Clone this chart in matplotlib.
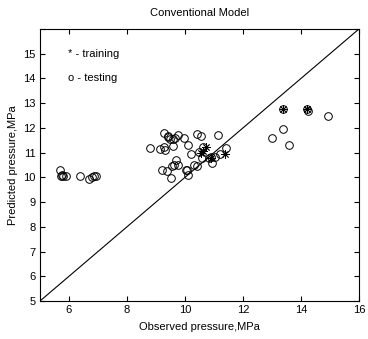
import matplotlib
matplotlib.use("Agg")
import matplotlib.pyplot as plt
import numpy as np

plt.rcParams['font.family'] = ['Liberation Sans', 'DejaVu Sans']
plt.rcParams['font.size'] = 8

# testing points (observed, predicted) in MPa
test_obs = [5.69, 5.72, 5.80, 5.90, 5.75, 6.38, 6.70, 6.78, 6.86, 6.93,
            8.78, 9.15, 9.26, 9.32, 9.28, 9.40, 9.47, 9.43, 9.58, 9.64, 9.77, 9.95,
            9.58, 9.20, 9.39, 9.51, 9.55, 9.63, 9.70, 9.76, 10.02, 10.07, 10.09,
            10.12, 10.22, 10.32, 10.41, 10.41, 10.55, 10.50, 10.62, 10.58, 10.82,
            10.90, 10.93, 11.05, 11.14, 11.20, 11.43,
            13.00, 13.37, 13.58, 13.38, 14.21, 14.24, 14.94]
test_pred = [10.28, 10.05, 10.04, 10.05, 10.08, 10.05, 9.95, 10.00, 10.04, 10.04,
             11.19, 11.14, 11.22, 11.11, 11.80, 11.69, 11.55, 11.62, 11.55, 11.60, 11.73, 11.60,
             11.25, 10.31, 10.25, 9.96, 10.44, 10.50, 10.71, 10.48, 10.31, 10.31, 10.08,
             11.32, 10.95, 10.48, 10.47, 11.76, 11.68, 11.02, 11.22, 10.79, 10.79,
             10.82, 10.57, 10.82, 11.73, 10.95, 11.18,
             11.61, 11.96, 11.32, 12.78, 12.78, 12.67, 12.49]

# training points
train_obs = [10.74, 10.55, 10.62, 10.90, 11.39, 13.38, 14.21]
train_pred = [11.22, 10.98, 11.05, 10.80, 10.95, 12.78, 12.78]

fig = plt.figure(figsize=(3.68, 3.39), dpi=100)
ax = fig.add_axes([0.1087, 0.1121, 0.8668, 0.8024])

ax.plot([5, 16], [5, 16], color='black', lw=0.8)
ax.plot(test_obs, test_pred, 'o', mfc='none', mec='black', ms=5.5, mew=0.7)
ax.plot(train_obs, train_pred, ls='none', marker=(8, 2, 0), color='black', ms=6, mew=0.6)

ax.text(5.95, 15.0, '* - training', va='center', ha='left')
ax.text(5.95, 14.0, 'o - testing', va='center', ha='left')

ax.set_xlim(5, 16)
ax.set_ylim(5, 16)
ax.set_xticks([6, 8, 10, 12, 14, 16])
ax.set_yticks(range(5, 17))
ax.set_yticklabels([str(v) for v in range(5, 16)] + [''])
ax.tick_params(direction='in', top=True, right=True, length=3.5, pad=3)
for s in ax.spines.values():
    s.set_linewidth(0.8)

ax.set_title('Conventional Model', fontsize=8, pad=9)
ax.set_xlabel('Observed pressure,MPa', labelpad=5)
ax.set_ylabel('Predicted pressure,MPa', labelpad=4)

fig.savefig('out.png', dpi=100)
